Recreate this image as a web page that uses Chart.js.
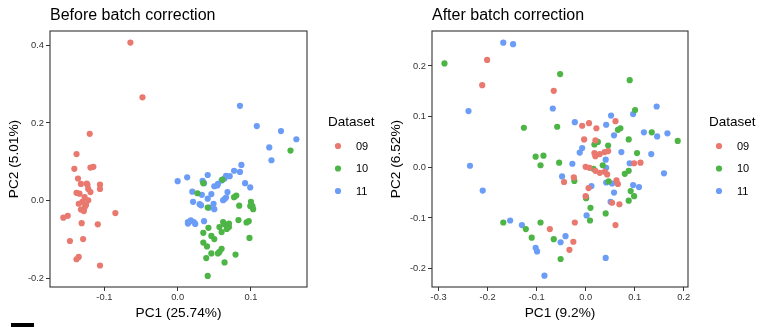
<!DOCTYPE html>
<html>
<head>
<meta charset="utf-8">
<script src="https://cdn.jsdelivr.net/npm/chart.js@4.4.1/dist/chart.umd.min.js"></script>
<style>
    body { margin: 0; background: #fff; }
    #wrap { position: relative; width: 772px; height: 327px; overflow: hidden; }
    canvas { position: absolute; top: 0; }
    #before { left: 0; }
    #after { left: 382px; }
    #mark { position: absolute; left: 11px; top: 323px; width: 23px; height: 4px; background: #000; }
</style>
</head>
<body>
<div id="wrap">
    <canvas id="before" width="390" height="327"></canvas>
    <canvas id="after" width="390" height="327"></canvas>
    <div id="mark"></div>
</div>
<script>
const DATASET_NAMES = ['09', '10', '11'];
const DATASET_COLORS = ['#E9786E', '#4DB446', '#6B9CF6'];

// PCA scores before correction, [PC1, PC2]
const before09 = [
    [-0.0645, 0.407], [-0.048, 0.266], [-0.120, 0.172], [-0.138, 0.120], [-0.141, 0.082],
    [-0.119, 0.085], [-0.115, 0.087], [-0.136, 0.057], [-0.132, 0.043], [-0.124, 0.044],
    [-0.106, 0.041], [-0.106, 0.030], [-0.138, 0.020], [-0.134, 0.018], [-0.122, 0.030],
    [-0.119, 0.022], [-0.127, 0.009], [-0.135, -0.008], [-0.130, -0.003], [-0.122, 0.001],
    [-0.125, -0.011], [-0.132, -0.023], [-0.127, -0.018], [-0.085, -0.032], [-0.156, -0.044],
    [-0.150, -0.039], [-0.131, -0.058], [-0.109, -0.061], [-0.147, -0.104], [-0.129, -0.099],
    [-0.138, -0.151], [-0.135, -0.145], [-0.106, -0.167], [-0.123, 0.040], [-0.128, -0.027]
];
const before10 = [
    [0.154, 0.129], [0.027, 0.019], [0.035, 0.045], [0.061, 0.054], [0.077, 0.009],
    [0.080, 0.013], [0.041, -0.018], [0.084, -0.013], [0.100, -0.003], [0.102, -0.014],
    [0.099, -0.014], [0.103, -0.022], [0.083, -0.050], [0.094, -0.056], [0.097, -0.053],
    [0.062, -0.055], [0.064, -0.061], [0.068, -0.064], [0.070, -0.059], [0.070, -0.068],
    [0.067, -0.073], [0.057, -0.068], [0.060, -0.081], [0.042, -0.070], [0.035, -0.083],
    [0.046, -0.091], [0.050, -0.099], [0.098, -0.096], [0.035, -0.108], [0.040, -0.118],
    [0.060, -0.124], [0.057, -0.132], [0.055, -0.136], [0.046, -0.136], [0.039, -0.148],
    [0.079, -0.139], [0.064, -0.159], [0.041, -0.194]
];
const before11 = [
    [0.085, 0.244], [0.108, 0.192], [0.141, 0.179], [0.162, 0.158], [0.125, 0.137],
    [0.128, 0.104], [0.087, 0.092], [0.077, 0.077], [0.085, 0.074], [0.000, 0.050],
    [0.013, 0.060], [0.041, 0.066], [0.034, 0.051], [0.036, 0.045], [0.055, 0.043],
    [0.060, 0.052], [0.064, 0.057], [0.066, 0.064], [0.071, 0.063], [0.050, 0.037],
    [0.054, 0.039], [0.092, 0.045], [0.099, 0.034], [0.020, 0.023], [0.033, 0.015],
    [0.041, 0.005], [0.046, 0.017], [0.068, 0.022], [0.064, 0.004], [0.066, 0.008],
    [0.062, 0.001], [0.021, -0.003], [0.030, -0.009], [0.032, -0.012], [0.043, -0.018],
    [0.049, -0.008], [0.050, -0.022], [0.014, -0.059], [0.018, -0.051], [0.022, -0.055],
    [0.024, -0.060], [0.014, -0.055], [0.036, -0.053]
];

// PCA scores after correction, [PC1, PC2]
const after09 = [
    [-0.201, 0.212], [-0.211, 0.162], [-0.065, 0.151], [-0.007, 0.082], [0.007, 0.087],
    [0.022, 0.077], [0.061, 0.091], [-0.003, 0.055], [0.020, 0.053], [0.018, 0.028],
    [0.020, 0.022], [0.029, 0.026], [0.039, 0.030], [0.046, 0.032], [0.000, 0.001],
    [0.008, -0.001], [0.020, -0.007], [0.029, -0.011], [0.039, -0.009], [0.044, -0.014],
    [0.099, 0.008], [0.112, 0.009], [-0.024, -0.020], [-0.044, -0.029], [0.006, -0.041],
    [0.000, -0.057], [0.063, -0.026], [0.066, -0.033], [0.054, -0.070], [0.069, -0.073],
    [0.061, -0.114], [-0.022, -0.109], [-0.073, -0.122], [-0.025, -0.147], [-0.033, -0.163]
];
const after10 = [
    [-0.288, 0.205], [-0.052, 0.184], [0.090, 0.172], [0.101, 0.113], [-0.126, 0.078],
    [-0.058, 0.080], [0.066, 0.074], [0.071, 0.077], [0.135, 0.069], [0.188, 0.052],
    [0.088, 0.055], [0.018, 0.045], [0.025, 0.050], [0.046, 0.043], [-0.102, 0.021],
    [-0.086, 0.023], [-0.092, 0.004], [-0.054, 0.009], [0.105, 0.028], [0.035, 0.004],
    [0.016, -0.003], [0.080, -0.013], [0.088, -0.007], [-0.023, -0.027], [0.047, -0.028],
    [0.092, -0.047], [0.099, -0.057], [0.088, -0.066], [0.001, -0.059], [0.001, -0.061],
    [0.010, -0.080], [0.041, -0.091], [0.009, -0.105], [-0.168, -0.109], [-0.092, -0.109],
    [-0.122, -0.122], [-0.110, -0.139], [-0.065, -0.142], [-0.051, -0.181]
];
const after11 = [
    [-0.168, 0.246], [-0.148, 0.243], [-0.239, 0.111], [-0.236, 0.003], [-0.210, -0.046],
    [-0.067, 0.116], [-0.022, 0.089], [0.052, 0.102], [0.042, 0.084], [0.097, 0.105],
    [0.145, 0.120], [0.058, 0.063], [0.119, 0.069], [0.146, 0.061], [0.167, 0.067],
    [-0.007, 0.038], [-0.012, 0.029], [0.073, 0.030], [0.041, 0.015], [0.134, 0.026],
    [-0.027, 0.007], [0.090, 0.008], [0.042, -0.001], [0.160, -0.012], [-0.048, -0.018],
    [0.012, -0.037], [0.042, -0.030], [0.054, -0.032], [0.097, -0.035], [0.109, -0.039],
    [0.058, -0.050], [0.051, -0.068], [0.002, -0.095], [-0.154, -0.105], [-0.130, -0.114],
    [-0.102, -0.159], [-0.099, -0.166], [-0.051, -0.148], [-0.041, -0.136], [-0.084, -0.214],
    [0.041, -0.179]
];

const beforeXTicks = [-0.1, 0.0, 0.1];
const beforeYTicks = [-0.2, 0.0, 0.2, 0.4];
const afterXTicks = [-0.3, -0.2, -0.1, 0.0, 0.1, 0.2];
const afterYTicks = [-0.2, -0.1, 0.0, 0.1, 0.2];

const FONT = '"Liberation Sans", Arial, sans-serif';
const POINT_R = 3.1;

// panel frame, title above it and the Dataset key on its right
const panelDecor = {
    id: 'panelDecor',
    afterDraw(chart, args, opts) {
        const ctx = chart.ctx;
        const a = chart.chartArea;
        ctx.save();
        ctx.strokeStyle = '#333';
        ctx.lineWidth = 1.1;
        ctx.strokeRect(a.left, a.top, a.right - a.left, a.bottom - a.top);

        ctx.fillStyle = '#000';
        ctx.textAlign = 'left';
        ctx.textBaseline = 'alphabetic';
        ctx.font = `16px ${FONT}`;
        ctx.fillText(opts.title, a.left, 20);

        ctx.font = `13.5px ${FONT}`;
        ctx.fillText('Dataset', a.right + 21, 126);

        ctx.font = `11px ${FONT}`;
        ctx.textBaseline = 'middle';
        const rows = [146, 168.5, 191];
        DATASET_NAMES.forEach((name, i) => {
            ctx.fillStyle = DATASET_COLORS[i];
            ctx.beginPath();
            ctx.arc(a.right + 31, rows[i], POINT_R, 0, Math.PI * 2);
            ctx.fill();
            ctx.fillStyle = '#000';
            ctx.fillText(name, a.right + 49, rows[i] + 0.5);
        });
        ctx.restore();
    }
};

function toPoints(pairs) {
    return pairs.map(p => ({x: p[0], y: p[1]}));
}

function fixedTicks(values) {
    return scale => { scale.ticks = values.map(v => ({value: v})); };
}

function makePca(canvasId, conf) {
    const datasets = conf.groups.map((pairs, i) => ({
        label: DATASET_NAMES[i],
        data: toPoints(pairs),
        backgroundColor: DATASET_COLORS[i],
        borderWidth: 0,
        pointRadius: POINT_R,
    }));

    const axisCommon = {
        type: 'linear',
        grid: {drawOnChartArea: false, tickLength: 4, tickColor: '#333', tickWidth: 1},
        border: {display: false},
    };

    return new Chart(document.getElementById(canvasId), {
        type: 'scatter',
        data: {datasets},
        options: {
            responsive: false,
            animation: false,
            devicePixelRatio: 1,
            layout: {padding: {top: 31, right: conf.padRight, left: 0, bottom: 0}},
            plugins: {
                legend: {display: false},
                tooltip: {enabled: false},
                panelDecor: {title: conf.title},
            },
            scales: {
                x: {
                    ...axisCommon,
                    min: conf.xRange[0],
                    max: conf.xRange[1],
                    afterBuildTicks: fixedTicks(conf.xTicks),
                    afterFit: s => { s.height = 40; },
                    ticks: {
                        font: {family: FONT, size: 9.3},
                        color: '#333',
                        padding: 1,
                        maxRotation: 0,
                        callback: v => v.toFixed(1),
                    },
                    title: {
                        display: true,
                        text: conf.xTitle,
                        color: '#000',
                        font: {family: FONT, size: 13.7},
                        padding: {top: 0, bottom: 6},
                    },
                },
                y: {
                    ...axisCommon,
                    min: conf.yRange[0],
                    max: conf.yRange[1],
                    afterBuildTicks: fixedTicks(conf.yTicks),
                    afterFit: s => { s.width = 50; },
                    ticks: {
                        font: {family: FONT, size: 9.3},
                        color: '#333',
                        padding: 2,
                        callback: v => v.toFixed(1),
                    },
                    title: {
                        display: true,
                        text: conf.yTitle,
                        color: '#000',
                        font: {family: FONT, size: 13.7},
                        padding: {top: 6, bottom: 0},
                    },
                },
            },
        },
        plugins: [panelDecor],
    });
}

makePca('before', {
    title: 'Before batch correction',
    groups: [before09, before10, before11],
    xRange: [-0.1742, 0.1765],
    yRange: [-0.2224, 0.4368],
    xTicks: beforeXTicks,
    yTicks: beforeYTicks,
    xTitle: 'PC1 (25.74%)',
    yTitle: 'PC2 (5.01%)',
    padRight: 83,
});

makePca('after', {
    title: 'After batch correction',
    groups: [after09, after10, after11],
    xRange: [-0.3135, 0.209],
    yRange: [-0.2363, 0.269],
    xTicks: afterXTicks,
    yTicks: afterYTicks,
    xTitle: 'PC1 (9.2%)',
    yTitle: 'PC2 (6.52%)',
    padRight: 84,
});
</script>
</body>
</html>
